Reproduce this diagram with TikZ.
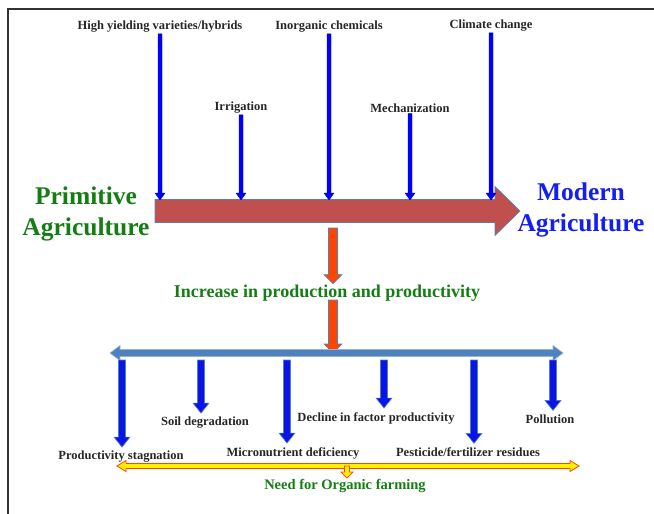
\documentclass[tikz,border=0pt]{standalone}
\usepackage{fontspec}
\setmainfont{Liberation Serif}
\usetikzlibrary{calc}
\definecolor{mainred}{RGB}{192,80,77}
\definecolor{steel}{RGB}{79,129,189}
\definecolor{dgreen}{RGB}{20,125,20}
\definecolor{mblue}{RGB}{20,30,240}
\definecolor{arrblue}{RGB}{10,20,230}
\definecolor{orred}{RGB}{255,69,0}
\tikzset{
    vblk/.style n args={3}{to path={let \p1=(\tikztostart), \p2=(\tikztotarget) in
        (\x1-#1,\y1) -- (\x1-#1,\y2+#3) -- (\x1-#2,\y2+#3) -- (\x1,\y2)
        -- (\x1+#2,\y2+#3) -- (\x1+#1,\y2+#3) -- (\x1+#1,\y1) -- cycle}},
    hblk/.style n args={3}{to path={let \p1=(\tikztostart), \p2=(\tikztotarget) in
        (\x1,\y1-#1) -- (\x2-#3,\y1-#1) -- (\x2-#3,\y1-#2) -- (\x2,\y1)
        -- (\x2-#3,\y1+#2) -- (\x2-#3,\y1+#1) -- (\x1,\y1+#1) -- cycle}},
    hhblk/.style n args={3}{to path={let \p1=(\tikztostart), \p2=(\tikztotarget) in
        (\x1,\y1) -- (\x1+#3,\y1+#2) -- (\x1+#3,\y1+#1) -- (\x2-#3,\y1+#1)
        -- (\x2-#3,\y1+#2) -- (\x2,\y1) -- (\x2-#3,\y1-#2) -- (\x2-#3,\y1-#1)
        -- (\x1+#3,\y1-#1) -- (\x1+#3,\y1-#2) -- cycle}},
}

\begin{document}
\begin{tikzpicture}[
    x=1pt, y=-1pt,
    txt/.style={font=\fontsize{12.5}{14}\selectfont\bfseries, text=black!85, inner sep=1pt},
    big/.style={font=\fontsize{25.5}{31}\selectfont\bfseries, align=center, inner sep=0pt},
    topblk/.style={vblk={2pt}{5pt}{7pt}, draw=blue!70!black, fill=blue, line width=0.4pt},
    redblk/.style={vblk={4.5pt}{9pt}{9pt}, draw=steel, fill=orred, line width=0.6pt},
    lowblk/.style={vblk={3.5pt}{8pt}{10pt}, draw=steel, fill=arrblue, line width=0.6pt},
    frame/.style={draw=black!80, line width=1.5pt}
]
\useasboundingbox (0,0) rectangle (654,514);
\draw[frame] (8,514) -- (8,9) -- (654,9);

% main arrow: primitive -> modern
\coordinate (mainL) at (155,211);
\coordinate (mainR) at (520,211);
\coordinate (shaft) at (0,200);
\draw[hblk={11.5pt}{24.5pt}{25pt}, draw=steel, fill=mainred, line width=0.6pt] (mainL) to (mainR);
\node[big, text=dgreen] (prim) at (86,214) {Primitive\\Agriculture};
\node[big, text=mblue] (mod) at (581,210) {Modern\\Agriculture};

% inputs
\node[txt] (hyv) at (160,27) {High yielding varieties/hybrids};
\node[txt] (inorg) at (329,27) {Inorganic chemicals};
\node[txt] (clim) at (491,26) {Climate change};
\node[txt] (irr) at (241,108) {Irrigation};
\node[txt] (mech) at (410,108) {Mechanization};
\foreach \nm in {hyv,inorg,clim,irr,mech}
    \draw[topblk] (\nm.south) to (\nm.south |- shaft);

% production
\node[font=\fontsize{18}{21}\selectfont\bfseries, text=dgreen, inner sep=1pt] (incr) at (327,293) {Increase in production and productivity};
\coordinate (r1) at (333,228);
\coordinate (r2) at (333,300);
\draw[redblk] (r1) to (incr.north);
\coordinate (barL) at (110,353);
\coordinate (barR) at (563,353);
\draw[redblk] (r2) to (barL);
\draw[hhblk={3.5pt}{7.5pt}{10pt}, draw=steel!60, fill=steel, line width=0.6pt] (barL) to (barR);

% consequences
\node[txt] (stag) at (121,457) {Productivity stagnation};
\node[txt] (soil) at (205,423) {Soil degradation};
\node[txt] (micro) at (293,453) {Micronutrient deficiency};
\node[txt] (decl) at (376,418) {Decline in factor productivity};
\node[txt] (pest) at (468,452) {Pesticide/fertilizer residues};
\node[txt] (poll) at (550,419) {Pollution};
\foreach \xx/\nm in {122/stag,201/soil,287/micro,384/decl,474/pest,553/poll}{
    \coordinate (b-\nm) at (\xx,360);
    \draw[lowblk] (b-\nm) to ([yshift=3pt]\nm.north);
}

% organic farming
\coordinate (yL) at (117,466);
\coordinate (yR) at (579,466);
\coordinate (yM) at (347,466);
\node[font=\fontsize{14.5}{17}\selectfont\bfseries, text=dgreen, inner sep=1pt] (need) at (345,486) {Need for Organic farming};
\draw[hhblk={2.5pt}{5.5pt}{9pt}, draw=orred, fill=yellow, line width=0.8pt] (yL) to (yR);
\draw[vblk={2.5pt}{6pt}{6pt}, draw=orred, fill=yellow, line width=0.8pt] (yM) to (need.north);
\end{tikzpicture}
\end{document}
